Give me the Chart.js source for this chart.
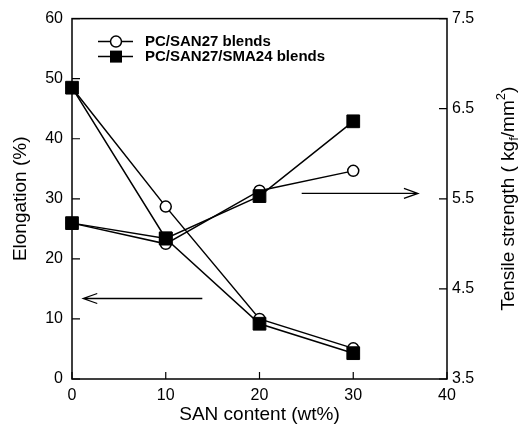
<!DOCTYPE html>
<html>
<head>
<meta charset="utf-8">
<script src="https://cdn.jsdelivr.net/npm/chart.js@4.4.1/dist/chart.umd.min.js"></script>
<style>
  body { margin: 0; background: #fff; }
  #wrap { width: 519px; height: 432px; }
</style>
</head>
<body>
<div id="wrap"><canvas id="myChart" width="519" height="432"></canvas></div>
<script>
// SAN content (wt%) on the x axis
const sanContent = [0, 10, 20, 30];
// Elongation (%) - left axis
const elongSan = [48.5, 28.7, 10.0, 5.1];
const elongSma = [48.5, 23.4, 9.2, 4.3];
// Tensile strength (kgf/mm2) - right axis
const tensileSan = [5.23, 5.0, 5.59, 5.81];
const tensileSma = [5.23, 5.06, 5.53, 6.36];

const seriesLabels = ["PC/SAN27 blends", "PC/SAN27/SMA24 blends"];
const xTicks = [0, 10, 20, 30, 40];
const leftTicks = [0, 10, 20, 30, 40, 50, 60];
const rightTicks = [3.5, 4.5, 5.5, 6.5, 7.5];

// arrows pointing to the axis each curve pair belongs to (data units)
const arrowToLeft = { axis: "yL", x1: 13.9, x2: 1.2, y: 13.4 };
const arrowToRight = { axis: "yR", x1: 24.5, x2: 36.9, y: 5.56 };

const FONT = '"Liberation Sans", Arial, Helvetica, sans-serif';

function pts(ys) {
  return sanContent.map((x, i) => ({ x: x, y: ys[i] }));
}

const lineStyle = {
  borderColor: "#000",
  borderWidth: 1.5,
  tension: 0,
  fill: false,
  clip: false,
};
const openCircle = {
  ...lineStyle,
  pointStyle: "circle",
  pointRadius: 5.5,
  pointBackgroundColor: "#fff",
  pointBorderColor: "#000",
  pointBorderWidth: 1.5,
};
const filledSquare = {
  ...lineStyle,
  pointStyle: "rect",
  pointRadius: 9,
  pointBackgroundColor: "#000",
  pointBorderColor: "#000",
  pointBorderWidth: 1,
};

// frame + inward tick marks
const frameTicks = {
  id: "frameTicks",
  beforeDatasetsDraw(chart) {
    const { ctx, chartArea: a, scales } = chart;
    ctx.save();
    ctx.strokeStyle = "#000";
    ctx.lineWidth = 1.5;
    ctx.strokeRect(a.left, a.top, a.right - a.left, a.bottom - a.top);
    ctx.lineWidth = 1.2;
    ctx.beginPath();
    xTicks.forEach((v) => {
      const px = scales.x.getPixelForValue(v);
      ctx.moveTo(px, a.bottom);
      ctx.lineTo(px, a.bottom - 7);
    });
    leftTicks.forEach((v) => {
      const py = scales.yL.getPixelForValue(v);
      ctx.moveTo(a.left, py);
      ctx.lineTo(a.left + 8, py);
    });
    rightTicks.forEach((v) => {
      const py = scales.yR.getPixelForValue(v);
      ctx.moveTo(a.right, py);
      ctx.lineTo(a.right - 8, py);
    });
    ctx.stroke();
    ctx.restore();
  },
};

function drawArrow(chart, arr) {
  const { ctx, scales } = chart;
  const x1 = scales.x.getPixelForValue(arr.x1);
  const x2 = scales.x.getPixelForValue(arr.x2);
  const y = scales[arr.axis].getPixelForValue(arr.y);
  const dir = x2 > x1 ? 1 : -1;
  ctx.beginPath();
  ctx.moveTo(x1, y);
  ctx.lineTo(x2, y);
  ctx.moveTo(x2 - dir * 14, y - 5);
  ctx.lineTo(x2, y);
  ctx.lineTo(x2 - dir * 14, y + 5);
  ctx.stroke();
}

// arrows, legend and right axis title (needs sub/superscript)
const extras = {
  id: "extras",
  afterDraw(chart) {
    const { ctx, chartArea: a } = chart;
    ctx.save();
    ctx.strokeStyle = "#000";
    ctx.fillStyle = "#000";
    ctx.lineWidth = 1.3;
    drawArrow(chart, arrowToLeft);
    drawArrow(chart, arrowToRight);

    // legend
    const lx = a.left + 26;
    const rows = [a.top + 23, a.top + 38];
    ctx.lineWidth = 1.5;
    rows.forEach((ry, i) => {
      ctx.beginPath();
      ctx.moveTo(lx, ry);
      ctx.lineTo(lx + 35, ry);
      ctx.stroke();
      const mx = lx + 18;
      if (i === 0) {
        ctx.beginPath();
        ctx.fillStyle = "#fff";
        ctx.arc(mx, ry, 5.5, 0, Math.PI * 2);
        ctx.fill();
        ctx.stroke();
      } else {
        ctx.fillStyle = "#000";
        ctx.fillRect(mx - 6, ry - 6, 12, 12);
      }
      ctx.fillStyle = "#000";
      ctx.font = "bold 15px " + FONT;
      ctx.textBaseline = "middle";
      ctx.textAlign = "left";
      ctx.fillText(seriesLabels[i], lx + 47, ry);
    });

    // right axis title, rotated
    const cy = (a.top + a.bottom) / 2;
    ctx.translate(509, cy);
    ctx.rotate(-Math.PI / 2);
    const big = "19px " + FONT;
    const small = "13px " + FONT;
    const parts = [
      { t: "Tensile strength ( kg", f: big, dy: 0 },
      { t: "f", f: small, dy: 5 },
      { t: "/mm", f: big, dy: 0 },
      { t: "2", f: small, dy: -8 },
      { t: ")", f: big, dy: 0 },
    ];
    let total = 0;
    parts.forEach((p) => {
      ctx.font = p.f;
      total += ctx.measureText(p.t).width;
    });
    let x = -total / 2;
    ctx.textAlign = "left";
    ctx.textBaseline = "middle";
    parts.forEach((p) => {
      ctx.font = p.f;
      ctx.fillText(p.t, x, p.dy);
      x += ctx.measureText(p.t).width;
    });
    ctx.restore();
  },
};

const ctx = document.getElementById("myChart").getContext("2d");
new Chart(ctx, {
  type: "line",
  data: {
    // Chart.js paints the first dataset on top, so squares go first
    datasets: [
      {
        label: seriesLabels[1],
        data: pts(elongSma),
        yAxisID: "yL",
        ...filledSquare,
      },
      {
        label: seriesLabels[1],
        data: pts(tensileSma),
        yAxisID: "yR",
        ...filledSquare,
      },
      {
        label: seriesLabels[0],
        data: pts(elongSan),
        yAxisID: "yL",
        ...openCircle,
      },
      {
        label: seriesLabels[0],
        data: pts(tensileSan),
        yAxisID: "yR",
        ...openCircle,
      },
    ],
  },
  options: {
    responsive: false,
    animation: false,
    layout: { padding: { top: 12, left: 0, right: 0, bottom: 0 } },
    plugins: {
      legend: { display: false },
      tooltip: { enabled: false },
    },
    scales: {
      x: {
        type: "linear",
        min: 0,
        max: 40,
        afterFit: (s) => { s.height = 53; },
        afterBuildTicks: (s) => { s.ticks = xTicks.map((v) => ({ value: v })); },
        grid: { display: false, drawTicks: false },
        border: { display: false },
        ticks: { color: "#000", padding: 7, font: { family: FONT, size: 16 } },
        title: {
          display: true,
          text: "SAN content (wt%)",
          color: "#000",
          padding: { top: 0, bottom: 6 },
          font: { family: FONT, size: 19 },
        },
      },
      yL: {
        type: "linear",
        position: "left",
        min: 0,
        max: 60,
        afterFit: (s) => { s.width = 72; },
        afterBuildTicks: (s) => { s.ticks = leftTicks.map((v) => ({ value: v })); },
        grid: { display: false, drawTicks: false },
        border: { display: false },
        ticks: { color: "#000", padding: 9, font: { family: FONT, size: 16 } },
        title: {
          display: true,
          text: "Elongation (%)",
          color: "#000",
          padding: { top: 9, bottom: 0 },
          font: { family: FONT, size: 19 },
        },
      },
      yR: {
        type: "linear",
        position: "right",
        min: 3.5,
        max: 7.5,
        afterFit: (s) => { s.width = 72; },
        afterBuildTicks: (s) => { s.ticks = rightTicks.map((v) => ({ value: v })); },
        grid: { display: false, drawTicks: false },
        border: { display: false },
        ticks: {
          color: "#000",
          padding: 5,
          font: { family: FONT, size: 16 },
          callback: (v) => v.toFixed(1),
        },
      },
    },
  },
  plugins: [frameTicks, extras],
});
</script>
</body>
</html>
